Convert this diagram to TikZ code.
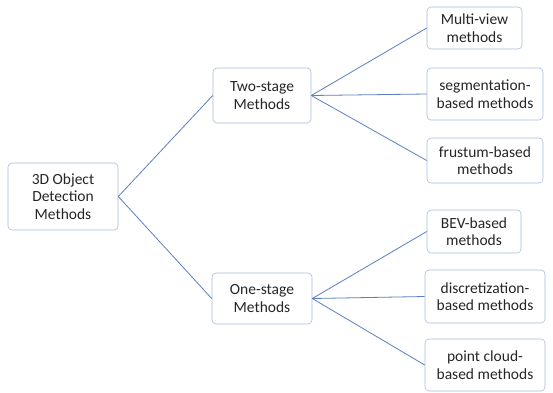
\documentclass[tikz,border=0pt]{standalone}
\usepackage{fontspec}
\setmainfont{Carlito}
\begin{document}
\begin{tikzpicture}[x=1pt,y=-1pt,
  box/.style={draw=boxc, line width=0.6pt, rounded corners=4pt, fill=white,
    align=center, inner sep=0pt, font=\fontsize{15.5}{17.5}\selectfont, text=black!85},
  link/.style={draw=linec, line width=0.8pt}]
\definecolor{boxc}{HTML}{A9BDDC}
\definecolor{linec}{HTML}{5B7FC2}
\useasboundingbox (0,0) rectangle (553,392);
\node[box, minimum width=110pt, minimum height=67pt] (root) at (63,196.5) {3D Object\\Detection\\Methods};
\node[box, minimum width=98pt, minimum height=55pt] (two) at (262,95.5) {Two-stage\\Methods};
\node[box, minimum width=100pt, minimum height=51pt] (one) at (262,298.5) {One-stage\\Methods};
\node[box, minimum width=95pt, minimum height=42pt] (mv) at (474.5,28) {Multi-view\\methods};
\node[box, minimum width=116pt, minimum height=52pt] (seg) at (485,94) {segmentation-\\based methods};
\node[box, minimum width=116pt, minimum height=45pt] (fru) at (485,160.5) {frustum-based\\methods};
\node[box, minimum width=94pt, minimum height=43pt] (bev) at (474,231.5) {BEV-based\\methods};
\node[box, minimum width=120pt, minimum height=53pt] (dis) at (485,296.5) {discretization-\\based methods};
\node[box, minimum width=120pt, minimum height=52pt] (pc) at (485,365) {point cloud-\\based methods};
\draw[link] (root.east) -- (two.west);
\draw[link] (root.east) -- (one.west);
\draw[link] (two.east) -- (mv.west);
\draw[link] (two.east) -- (seg.west);
\draw[link] (two.east) -- (fru.west);
\draw[link] (one.east) -- (bev.west);
\draw[link] (one.east) -- (dis.west);
\draw[link] (one.east) -- (pc.west);
\end{tikzpicture}
\end{document}
